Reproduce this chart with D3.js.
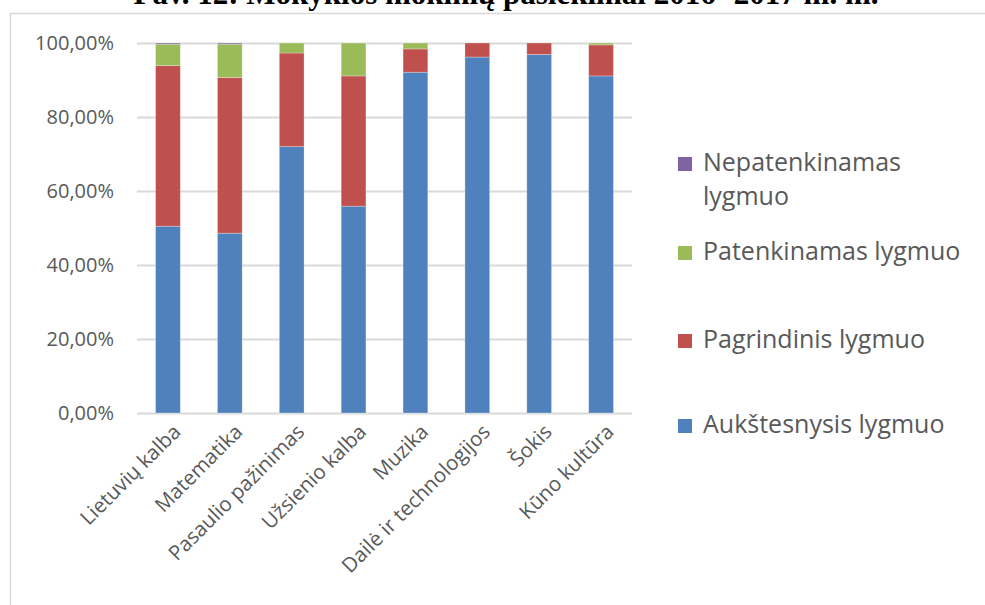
<!DOCTYPE html>
<html>
<head>
<meta charset="utf-8">
<script src="https://cdn.jsdelivr.net/npm/d3@7"></script>
<style>
  body { margin: 0; background: #fff; }
  svg { display: block; }
</style>
</head>
<body>
<svg id="chart" width="985" height="605"></svg>
<script>
// data (percent)
var categories = ["Lietuvių kalba", "Matematika", "Pasaulio pažinimas", "Užsienio kalba",
                  "Muzika", "Dailė ir technologijos", "Šokis", "Kūno kultūra"];
var seriesNames = ["Aukštesnysis lygmuo", "Pagrindinis lygmuo", "Patenkinamas lygmuo", "Nepatenkinamas lygmuo"];
var aukstesnysis   = [50.5, 48.6, 72.0, 55.9, 92.1, 96.2, 96.9, 91.1];
var pagrindinis    = [43.4, 42.1, 25.3, 35.2, 6.3, 3.8, 3.1, 8.4];
var patenkinamas   = [5.8, 9.0, 2.7, 8.9, 1.6, 0, 0, 0.5];
var nepatenkinamas = [0.3, 0.3, 0, 0, 0, 0, 0, 0];
var yTicks = [0, 0.2, 0.4, 0.6, 0.8, 1.0];
var colors = ["#4F81BD", "#C0504D", "#9BBB59", "#8064A2"];

var svg = d3.select("#chart");
var font = "'Open Sans', Lato, sans-serif";

// outer frame of the chart
svg.append("rect")
   .attr("x", 10.5).attr("y", 13.5)
   .attr("width", 1000).attr("height", 700)
   .attr("fill", "none")
   .attr("stroke", "#d9d9d9")
   .attr("stroke-width", 1.5);

// title (cut at the top edge, as in the source)
svg.append("text")
   .attr("x", 506).attr("y", 4)
   .attr("text-anchor", "middle")
   .attr("font-family", "'Liberation Serif', 'Times New Roman', serif")
   .attr("font-weight", "bold")
   .attr("font-size", "31px")
   .attr("fill", "#000")
   .text("Pav. 12: Mokyklos mokinių pasiekimai 2016 -2017 m. m.");

var x = d3.scaleBand().domain(categories).range([137, 632]).paddingInner(0.6).paddingOuter(0.3);
var y = d3.scaleLinear().domain([0, 1]).range([413, 43]);

var lt = d3.formatLocale({decimal: ",", thousands: " ", grouping: [3], currency: ["", "€"]});
var pct = lt.format(".2%");

// gridlines + y labels
var yAxis = svg.append("g")
   .attr("transform", "translate(137,0)")
   .call(d3.axisLeft(y).tickValues(yTicks).tickSize(-495).tickFormat(pct).tickPadding(23));
yAxis.select(".domain").remove();
yAxis.selectAll("line").attr("stroke", "#d9d9d9").attr("stroke-width", 1.8);
yAxis.selectAll("text")
     .attr("font-family", font)
     .attr("font-size", "20px")
     .attr("fill", "#595959");

// stacked bars
var rows = categories.map(function(c, i){
	return {cat: c, s0: aukstesnysis[i] / 100, s1: pagrindinis[i] / 100, s2: patenkinamas[i] / 100, s3: nepatenkinamas[i] / 100};
});
var stack = d3.stack().keys(["s0", "s1", "s2", "s3"]);
var layers = stack(rows);

svg.append("g").selectAll("g")
   .data(layers).enter()
   .append("g")
   .attr("fill", function(d, i){ return colors[i]; })
   .selectAll("rect")
   .data(function(d){ return d; }).enter()
   .append("rect")
   .attr("x", function(d){ return x(d.data.cat); })
   .attr("width", x.bandwidth())
   .attr("y", function(d){ return y(d[1]); })
   .attr("height", function(d){ return y(d[0]) - y(d[1]); })
   .attr("stroke", "#ffffff")
   .attr("stroke-opacity", 0.35)
   .attr("stroke-width", 0.8);

// category labels, rotated
svg.append("g").selectAll("text")
   .data(categories).enter()
   .append("text")
   .attr("transform", function(d){
	   return "translate(" + (x(d) + x.bandwidth() / 2 + 9) + ",428) rotate(-45)";
   })
   .attr("text-anchor", "end")
   .attr("dy", "0.35em")
   .attr("font-family", font)
   .attr("font-size", "20.5px")
   .attr("fill", "#595959")
   .text(function(d){ return d; });

// legend
var legendItems = [
	{name: ["Nepatenkinamas", "lygmuo"], color: colors[3], y: 171},
	{name: ["Patenkinamas lygmuo"], color: colors[2], y: 260},
	{name: ["Pagrindinis lygmuo"], color: colors[1], y: 348},
	{name: ["Aukštesnysis lygmuo"], color: colors[0], y: 433}
];
var legend = svg.append("g").selectAll("g")
   .data(legendItems).enter()
   .append("g");
legend.append("rect")
   .attr("x", 678).attr("y", function(d){ return d.y - 14; })
   .attr("width", 14).attr("height", 14)
   .attr("fill", function(d){ return d.color; });
legend.append("text")
   .attr("x", 703).attr("y", function(d){ return d.y; })
   .attr("font-family", font)
   .attr("font-size", "25px")
   .attr("fill", "#595959")
   .selectAll("tspan")
   .data(function(d){ return d.name; }).enter()
   .append("tspan")
   .attr("x", 703)
   .attr("dy", function(d, i){ return i == 0 ? 0 : 34; })
   .text(function(d){ return d; });
</script>
</body>
</html>
